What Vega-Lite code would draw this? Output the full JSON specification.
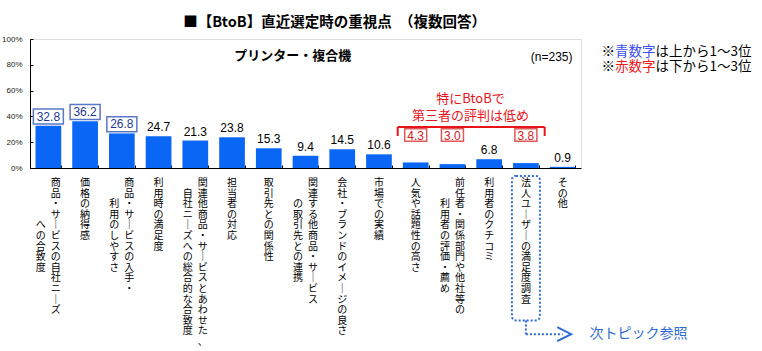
{
  "$schema": "https://vega.github.io/schema/vega-lite/v6.json",
  "padding": {"left": 1, "top": 14, "right": 0, "bottom": 0},
  "background": "white",
  "bounds": "flush",
  "spacing": 10,
  "config": {"axisY": {"labelOverlap": false, "labelBound": false, "labelFlush": false}},
  "data": {"values": [
    {"cat": "商品・サービスの自社ニーズへの合致度", "value": 32.8, "rank": "上位", "label1": "商品・サービスの自社ニーズ", "label2": "への合致度"},
    {"cat": "価格の納得感", "value": 36.2, "rank": "上位", "label1": "価格の納得感", "label2": ""},
    {"cat": "商品・サービスの入手・利用のしやすさ", "value": 26.8, "rank": "上位", "label1": "商品・サービスの入手・", "label2": "利用のしやすさ"},
    {"cat": "利用時の満足度", "value": 24.7, "rank": "-", "label1": "利用時の満足度", "label2": ""},
    {"cat": "関連他商品・サービスとあわせた、自社ニーズへの総合的な合致度", "value": 21.3, "rank": "-", "label1": "関連他商品・サービスとあわせた、", "label2": "自社ニーズへの総合的な合致度"},
    {"cat": "担当者の対応", "value": 23.8, "rank": "-", "label1": "担当者の対応", "label2": ""},
    {"cat": "取引先との関係性", "value": 15.3, "rank": "-", "label1": "取引先との関係性", "label2": ""},
    {"cat": "関連する他商品・サービスの取引先との連携", "value": 9.4, "rank": "-", "label1": "関連する他商品・サービス", "label2": "の取引先との連携"},
    {"cat": "会社・ブランドのイメージの良さ", "value": 14.5, "rank": "-", "label1": "会社・ブランドのイメージの良さ", "label2": ""},
    {"cat": "市場での実績", "value": 10.6, "rank": "-", "label1": "市場での実績", "label2": ""},
    {"cat": "人気や話題性の高さ", "value": 4.3, "rank": "下位", "label1": "人気や話題性の高さ", "label2": ""},
    {"cat": "前任者・関係部門や他社等の利用者の評価・薦め", "value": 3.0, "rank": "下位", "label1": "前任者・関係部門や他社等の", "label2": "利用者の評価・薦め"},
    {"cat": "利用者のクチコミ", "value": 6.8, "rank": "-", "label1": "利用者のクチコミ", "label2": ""},
    {"cat": "法人ユーザーの満足度調査", "value": 3.8, "rank": "下位", "label1": "法人ユーザーの満足度調査", "label2": ""},
    {"cat": "その他", "value": 0.9, "rank": "-", "label1": "その他", "label2": ""}
  ]},
  "resolve": {"scale": {"x": "independent", "y": "independent"}},
  "vconcat": [
    {
      "width": 551,
      "height": 129,
      "resolve": {"axis": {"x": "independent", "y": "independent"}},
      "layer": [
        {
          "mark": {"type": "bar", "color": "#0A66F5"},
          "encoding": {
            "x": {"field": "cat", "type": "nominal", "sort": null,
              "scale": {"domain": ["商品・サービスの自社ニーズへの合致度","価格の納得感","商品・サービスの入手・利用のしやすさ","利用時の満足度","関連他商品・サービスとあわせた、自社ニーズへの総合的な合致度","担当者の対応","取引先との関係性","関連する他商品・サービスの取引先との連携","会社・ブランドのイメージの良さ","市場での実績","人気や話題性の高さ","前任者・関係部門や他社等の利用者の評価・薦め","利用者のクチコミ","法人ユーザーの満足度調査","その他"], "paddingInner": 0.3, "paddingOuter": 0.15},
              "axis": {"labels": false, "title": null, "ticks": true, "tickBand": "extent", "tickSize": -3, "tickColor": "#000", "domainColor": "#000", "grid": false}},
            "y": {"field": "value", "type": "quantitative",
              "scale": {"domain": [0, 100], "nice": false},
              "axis": {"values": [0, 20, 40, 60, 80, 100], "labelExpr": "datum.value + '%'", "labelOverlap": false, "labelFlush": false, "title": null, "grid": false, "tickSize": -3, "tickColor": "#000", "domainColor": "#000", "labelFontSize": 8, "labelFont": "Liberation Sans", "labelColor": "#222", "labelPadding": 11}}
          }
        },
        {
          "transform": [{"filter": "datum.rank != '下位'"}],
          "mark": {"type": "text", "baseline": "alphabetic", "dy": -5, "fontSize": 12, "font": "Liberation Sans"},
          "encoding": {
            "x": {"field": "cat", "type": "nominal", "sort": null, "axis": null},
            "y": {"field": "value", "type": "quantitative", "axis": null},
            "text": {"field": "value", "type": "quantitative", "format": ".1f"},
            "color": {"field": "rank", "type": "nominal", "scale": {"domain": ["上位", "下位", "-"], "range": ["#1F3A93", "#D42020", "#000000"]}, "legend": null}
          }
        },
        {
          "transform": [{"filter": "datum.rank == '上位'"}],
          "mark": {"type": "point", "shape": "M-1,-1.12H1V-0.12H-1Z", "size": 900, "filled": false, "strokeWidth": 1.5, "opacity": 1, "stroke": "#5B78C8"},
          "encoding": {
            "x": {"field": "cat", "type": "nominal", "sort": null, "axis": null},
            "y": {"field": "value", "type": "quantitative", "axis": null}
          }
        },
        {
          "transform": [{"filter": "datum.rank == '下位'"}],
          "mark": {"type": "text", "baseline": "alphabetic", "fontSize": 12, "font": "Liberation Sans", "color": "#D42020"},
          "encoding": {
            "x": {"field": "cat", "type": "nominal", "sort": null, "axis": null},
            "y": {"datum": 22, "type": "quantitative", "axis": null},
            "text": {"field": "value", "type": "quantitative", "format": ".1f"}
          }
        },
        {
          "transform": [{"filter": "datum.rank == '下位'"}],
          "mark": {"type": "point", "shape": "M-1,-0.99H1V0.15H-1Z", "size": 484, "filled": false, "strokeWidth": 1.5, "opacity": 1, "stroke": "#E05858"},
          "encoding": {
            "x": {"field": "cat", "type": "nominal", "sort": null, "axis": null},
            "y": {"datum": 22, "type": "quantitative", "axis": null}
          }
        },
        {
          "data": {"values": [{}]},
          "mark": {"type": "rule", "color": "#E8141B", "strokeWidth": 2},
          "encoding": {
            "x": {"datum": "人気や話題性の高さ", "type": "nominal", "bandPosition": -0.2, "axis": null},
            "x2": {"datum": "法人ユーザーの満足度調査", "bandPosition": 1.23},
            "y": {"datum": 31.8, "type": "quantitative", "axis": null}
          }
        },
        {
          "data": {"values": [{}]},
          "mark": {"type": "rule", "color": "#E8141B", "strokeWidth": 2},
          "encoding": {
            "x": {"datum": "人気や話題性の高さ", "type": "nominal", "bandPosition": -0.2, "axis": null},
            "y": {"datum": 31.8, "type": "quantitative", "axis": null},
            "y2": {"datum": 24.8}
          }
        },
        {
          "data": {"values": [{}]},
          "mark": {"type": "rule", "color": "#E8141B", "strokeWidth": 2},
          "encoding": {
            "x": {"datum": "法人ユーザーの満足度調査", "type": "nominal", "bandPosition": 1.23, "axis": null},
            "y": {"datum": 31.8, "type": "quantitative", "axis": null},
            "y2": {"datum": 24.8}
          }
        },
        {
          "data": {"values": [{}]},
          "mark": {"type": "text", "text": ["特にBtoBで", "第三者の評判は低め"], "color": "#E8141B", "fontSize": 13, "lineHeight": 17.5, "baseline": "middle", "align": "center", "font": "Noto Sans CJK JP"},
          "encoding": {
            "x": {"datum": "前任者・関係部門や他社等の利用者の評価・薦め", "type": "nominal", "bandPosition": 1.2, "axis": null},
            "y": {"datum": 53.7, "type": "quantitative", "axis": null}
          }
        },
        {
          "data": {"values": [{}]},
          "mark": {"type": "text", "text": "プリンター・複合機", "fontSize": 13, "fontWeight": "bold", "baseline": "middle", "align": "center", "font": "Noto Sans CJK JP", "color": "#000"},
          "encoding": {
            "x": {"datum": "関連する他商品・サービスの取引先との連携", "type": "nominal", "bandPosition": 0, "axis": null},
            "y": {"datum": 86.8, "type": "quantitative", "axis": null}
          }
        },
        {
          "data": {"values": [{}]},
          "mark": {"type": "text", "text": "(n=235)", "fontSize": 12, "baseline": "middle", "align": "right", "dx": -3, "font": "Liberation Sans", "color": "#000"},
          "encoding": {
            "x": {"datum": "その他", "type": "nominal", "bandPosition": 1, "axis": null},
            "y": {"datum": 86, "type": "quantitative", "axis": null}
          }
        },
        {
          "data": {"values": [{}]},
          "mark": {"type": "text", "text": "■【BtoB】直近選定時の重視点　（複数回答）", "fontSize": 14.5, "fontWeight": "bold", "baseline": "middle", "align": "center", "font": "Noto Sans CJK JP", "color": "#000"},
          "encoding": {
            "x": {"datum": "会社・ブランドのイメージの良さ", "type": "nominal", "bandPosition": 0.2, "axis": null},
            "y": {"datum": 112.5, "type": "quantitative", "axis": null}
          }
        },
        {
          "data": {"values": [{}]},
          "mark": {"type": "text", "text": "※", "fontSize": 13.5, "baseline": "middle", "align": "left", "dx": 26, "font": "Noto Sans CJK JP", "color": "#000"},
          "encoding": {"x": {"datum": "その他", "type": "nominal", "bandPosition": 1, "axis": null}, "y": {"datum": 89.9, "type": "quantitative", "axis": null}}
        },
        {
          "data": {"values": [{}]},
          "mark": {"type": "text", "text": "青数字", "fontSize": 13.5, "baseline": "middle", "align": "left", "dx": 39.5, "font": "Noto Sans CJK JP", "color": "#3B4CF0"},
          "encoding": {"x": {"datum": "その他", "type": "nominal", "bandPosition": 1, "axis": null}, "y": {"datum": 89.9, "type": "quantitative", "axis": null}}
        },
        {
          "data": {"values": [{}]},
          "mark": {"type": "text", "text": "は上から1～3位", "fontSize": 13.5, "baseline": "middle", "align": "left", "dx": 80, "font": "Noto Sans CJK JP", "color": "#000"},
          "encoding": {"x": {"datum": "その他", "type": "nominal", "bandPosition": 1, "axis": null}, "y": {"datum": 89.9, "type": "quantitative", "axis": null}}
        },
        {
          "data": {"values": [{}]},
          "mark": {"type": "text", "text": "※", "fontSize": 13.5, "baseline": "middle", "align": "left", "dx": 26, "font": "Noto Sans CJK JP", "color": "#000"},
          "encoding": {"x": {"datum": "その他", "type": "nominal", "bandPosition": 1, "axis": null}, "y": {"datum": 78.3, "type": "quantitative", "axis": null}}
        },
        {
          "data": {"values": [{}]},
          "mark": {"type": "text", "text": "赤数字", "fontSize": 13.5, "baseline": "middle", "align": "left", "dx": 39.5, "font": "Noto Sans CJK JP", "color": "#F01818"},
          "encoding": {"x": {"datum": "その他", "type": "nominal", "bandPosition": 1, "axis": null}, "y": {"datum": 78.3, "type": "quantitative", "axis": null}}
        },
        {
          "data": {"values": [{}]},
          "mark": {"type": "text", "text": "は下から1～3位", "fontSize": 13.5, "baseline": "middle", "align": "left", "dx": 80, "font": "Noto Sans CJK JP", "color": "#000"},
          "encoding": {"x": {"datum": "その他", "type": "nominal", "bandPosition": 1, "axis": null}, "y": {"datum": 78.3, "type": "quantitative", "axis": null}}
        }
      ]
    },
    {
      "width": 551,
      "height": 170,
      "view": {"stroke": null},
      "layer": [
        {
          "mark": {"type": "text", "baseline": "top", "align": "center", "fontSize": 10, "lineHeight": 10.6, "font": "Noto Sans CJK JP", "color": "#000",
            "text": {"expr": "split(replace(datum.label1, regexp('ー', 'g'), '｜'), '')"},
            "dx": {"expr": "datum.label2 != '' ? 7.5 : 0"}},
          "encoding": {
            "x": {"field": "cat", "type": "nominal", "sort": null,
              "scale": {"domain": ["商品・サービスの自社ニーズへの合致度","価格の納得感","商品・サービスの入手・利用のしやすさ","利用時の満足度","関連他商品・サービスとあわせた、自社ニーズへの総合的な合致度","担当者の対応","取引先との関係性","関連する他商品・サービスの取引先との連携","会社・ブランドのイメージの良さ","市場での実績","人気や話題性の高さ","前任者・関係部門や他社等の利用者の評価・薦め","利用者のクチコミ","法人ユーザーの満足度調査","その他"], "paddingInner": 0.3, "paddingOuter": 0.15},
              "axis": null},
            "y": {"datum": 0, "type": "quantitative", "scale": {"domain": [0, 16], "reverse": true, "nice": false, "zero": false}, "axis": null}
          }
        },
        {
          "transform": [{"filter": "datum.label2 != ''"}],
          "mark": {"type": "text", "baseline": "top", "align": "center", "fontSize": 10, "lineHeight": 10.6, "font": "Noto Sans CJK JP", "color": "#000",
            "text": {"expr": "split(replace(datum.label2, regexp('ー', 'g'), '｜'), '')"},
            "dx": -7.5,
            "dy": {"expr": "(length(datum.label1) - length(datum.label2)) * 10.6 / 2"}},
          "encoding": {
            "x": {"field": "cat", "type": "nominal", "sort": null},
            "y": {"datum": 0, "type": "quantitative"}
          }
        },
        {
          "data": {"values": [{}]},
          "mark": {"type": "bar", "width": 28, "fill": "transparent", "stroke": "#2E6BD6", "strokeWidth": 2, "strokeDash": [2, 2], "cornerRadius": 4},
          "encoding": {
            "x": {"datum": "法人ユーザーの満足度調査", "type": "nominal"},
            "y": {"datum": -0.2, "type": "quantitative"},
            "y2": {"datum": 13.4}
          }
        },
        {
          "data": {"values": [{}]},
          "mark": {"type": "rule", "color": "#2E6BD6", "strokeWidth": 2, "strokeDash": [2, 2]},
          "encoding": {
            "x": {"datum": "法人ユーザーの満足度調査", "type": "nominal"},
            "y": {"datum": 13.4, "type": "quantitative"},
            "y2": {"datum": 14.7}
          }
        },
        {
          "data": {"values": [{}]},
          "mark": {"type": "rule", "color": "#2E6BD6", "strokeWidth": 2, "strokeDash": [2, 2]},
          "encoding": {
            "x": {"datum": "法人ユーザーの満足度調査", "type": "nominal"},
            "x2": {"datum": "その他"},
            "y": {"datum": 14.7, "type": "quantitative"}
          }
        },
        {
          "data": {"values": [{}]},
          "mark": {"type": "point", "shape": "M-1,-1L1,0L-1,1", "size": 196, "filled": false, "stroke": "#2E6BD6", "strokeWidth": 2, "opacity": 1},
          "encoding": {
            "x": {"datum": "その他", "type": "nominal", "bandPosition": 0.56},
            "y": {"datum": 14.7, "type": "quantitative"}
          }
        },
        {
          "data": {"values": [{}]},
          "mark": {"type": "text", "text": "次トピック参照", "fontSize": 14, "baseline": "middle", "align": "left", "dx": 14, "font": "Noto Sans CJK JP", "color": "#2E6BD6"},
          "encoding": {
            "x": {"datum": "その他", "type": "nominal", "bandPosition": 1},
            "y": {"datum": 14.7, "type": "quantitative"}
          }
        }
      ]
    }
  ]
}
